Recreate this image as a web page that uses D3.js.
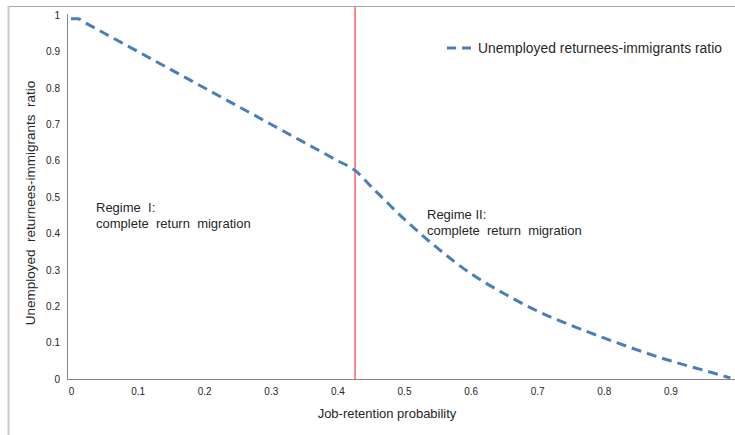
<!DOCTYPE html>
<html><head><meta charset="utf-8">
<script src="https://cdn.jsdelivr.net/npm/d3@7"></script>
<style>
html,body{margin:0;padding:0;background:#fff;}
svg text{font-family:"Liberation Sans",Arial,sans-serif;fill:#262626;white-space:pre;}
</style></head>
<body><svg id="c" width="735" height="435"></svg>
<script>
const probability = [0, 0.01, 0.02, 0.05, 0.1, 0.15, 0.2, 0.25, 0.3, 0.35, 0.4, 0.4265, 0.45, 0.5, 0.55, 0.6, 0.65, 0.7, 0.75, 0.8, 0.85, 0.9, 0.95, 0.99];
const ratio = [0.99, 0.99, 0.98, 0.95, 0.9, 0.85, 0.8, 0.75, 0.7, 0.65, 0.6, 0.573, 0.53, 0.44, 0.36, 0.29, 0.235, 0.187, 0.148, 0.113, 0.08, 0.05, 0.024, 0.003];
const threshold = 0.4265;
const xTicks = [0, 0.1, 0.2, 0.3, 0.4, 0.5, 0.6, 0.7, 0.8, 0.9];
const yTicks = [0, 0.1, 0.2, 0.3, 0.4, 0.5, 0.6, 0.7, 0.8, 0.9, 1];
const seriesName = "Unemployed returnees-immigrants ratio";

const svg = d3.select("#c");
const x = d3.scaleLinear().domain([0, 1]).range([71, 737]);
const y = d3.scaleLinear().domain([0, 1]).range([379, 15]);

// outer frame
svg.append("line").attr("x1", 8).attr("x2", 735).attr("y1", 6.5).attr("y2", 6.5).attr("stroke", "#a6a6a6").attr("stroke-width", 1);
svg.append("line").attr("x1", 8.5).attr("x2", 8.5).attr("y1", 6).attr("y2", 435).attr("stroke", "#c8c8c8").attr("stroke-width", 2);

// axes
const xAxis = d3.axisBottom(x).tickValues(xTicks).tickSize(0).tickPadding(9).tickFormat(d3.format("~g"));
const gx = svg.append("g").attr("transform", "translate(0,379)").call(xAxis);
gx.select(".domain").remove();
gx.selectAll("text").attr("font-size", 10).attr("font-family", "Liberation Sans, Arial, sans-serif").attr("fill", "#262626");
svg.append("line").attr("x1", 67).attr("x2", 735).attr("y1", 379.5).attr("y2", 379.5).attr("stroke", "#868686");

const yAxis = d3.axisLeft(y).tickValues(yTicks).tickSize(0).tickPadding(7).tickFormat(d3.format("~g"));
const gy = svg.append("g").attr("transform", "translate(67,0)").call(yAxis);
gy.select(".domain").remove();
gy.selectAll("text").attr("font-size", 10).attr("font-family", "Liberation Sans, Arial, sans-serif").attr("fill", "#262626");
svg.append("line").attr("x1", 67.5).attr("x2", 67.5).attr("y1", 14).attr("y2", 379).attr("stroke", "#868686");

// threshold line
svg.append("line").attr("x1", x(threshold)).attr("x2", x(threshold)).attr("y1", 7).attr("y2", 379)
  .attr("stroke", "#ff3b3b").attr("stroke-width", 1.2);

// series
const pts = probability.map((p, i) => [p, ratio[i]]);
const line = d3.line().x(d => x(d[0])).y(d => y(d[1])).curve(d3.curveMonotoneX);
svg.append("path").datum(pts).attr("d", line).attr("fill", "none")
  .attr("stroke", "#4a7ebb").attr("stroke-width", 3).attr("stroke-dasharray", "10,6");

// legend
svg.append("line").attr("x1", 447).attr("x2", 473).attr("y1", 48).attr("y2", 48)
  .attr("stroke", "#4a7ebb").attr("stroke-width", 3).attr("stroke-dasharray", "9,6");
svg.append("text").attr("x", 478).attr("y", 52.5).attr("font-size", 13.8).attr("textLength", 244).text(seriesName);

// titles
svg.append("text").attr("x", 387).attr("y", 418).attr("text-anchor", "middle").attr("font-size", 13).text("Job-retention probability");
svg.append("text").attr("transform", "translate(35,203) rotate(-90)").attr("text-anchor", "middle").attr("font-size", 13.5)
  .text("Unemployed  returnees-immigrants  ratio");

// annotations
svg.append("text").attr("x", 96).attr("y", 212).attr("font-size", 13).text("Regime  I:");
svg.append("text").attr("x", 96).attr("y", 228).attr("font-size", 13).text("complete  return  migration");
svg.append("text").attr("x", 427).attr("y", 219).attr("font-size", 13).text("Regime II:");
svg.append("text").attr("x", 427).attr("y", 235).attr("font-size", 13).text("complete  return  migration");
</script></body></html>
